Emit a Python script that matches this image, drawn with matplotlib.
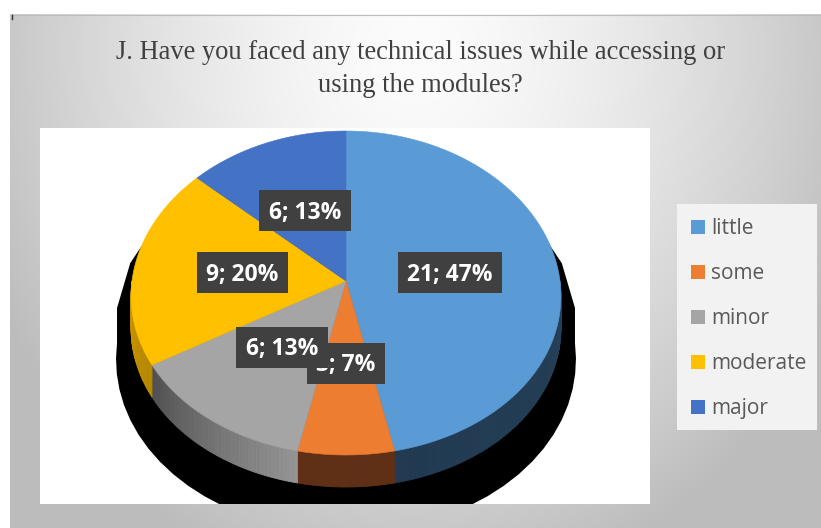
import numpy as np
import matplotlib
matplotlib.use("Agg")
import matplotlib.pyplot as plt
from matplotlib.patches import Polygon, Rectangle
from matplotlib.collections import PolyCollection
from matplotlib.colors import to_rgb

# ---- data -------------------------------------------------------------
categories = ["little", "some", "minor", "moderate", "major"]
counts = [21, 3, 6, 9, 6]
title_lines = ["J. Have you faced any technical issues while accessing or",
               "using the modules?"]

# ---- styling ----------------------------------------------------------
top_colors = ["#5b9bd5", "#ed7d31", "#a5a5a5", "#ffc000", "#4472c4"]
# side shading (colour at start angle, colour at end angle)
side_colors = [("#284660", "#223b52"), ("#5f3016", "#5f3016"),
               ("#959595", "#505050"), ("#b98a00", "#d9a500"),
               ("#2f4f8a", "#2f4f8a")]

W, H = 821, 528
fig = plt.figure(figsize=(W / 100, H / 100), dpi=100)
ax = fig.add_axes([0, 0, 1, 1])
ax.set_xlim(0, W)
ax.set_ylim(H, 0)
ax.axis("off")

# ---- background: soft radial grey gradient ------------------------------
yy, xx = np.mgrid[0:H, 0:W] + 0.5
t = np.sqrt(((xx - 415) / 440) ** 2 + ((yy - 50) / 520) ** 2)
val = np.clip(252 - 58 * t ** 1.5, 188, 252) / 255.0
bg = np.dstack([val, val, val])
bg[(xx < 10) | (yy < 14)] = 1.0
ax.imshow(bg, extent=(0, W, H, 0), zorder=0, interpolation="bilinear")
ax.plot([10, W], [14.5, 14.5], color="#bdbdbd", lw=0.8, zorder=1)
ax.plot([12, 12], [15, 19], color="#333333", lw=1, zorder=1)

# plot area
PX0, PX1, PY0, PY1 = 40, 650, 128, 504
ax.add_patch(Rectangle((PX0, PY0), PX1 - PX0, PY1 - PY0, fc="white",
                       ec="none", zorder=1))

# ---- title --------------------------------------------------------------
for i, line in enumerate(title_lines):
    ax.text(420.5, 59 + 33 * i, line, ha="center", va="baseline",
            family="Liberation Serif", fontsize=19.1, color="#404040",
            zorder=5)

# ---- 3-D pie geometry ---------------------------------------------------
CX, CY = 346.0, 281.0
A, B0, B1, K, DEPTH = 214.0, 162.0, 12.0, 0.094, 32.0


def proj(theta, r=1.0, z=0.0):
    th = np.radians(theta)
    u = r * np.sin(th)
    v = -r * np.cos(th)
    x = CX + A * u * (1 + K * v)
    y = CY + B0 * v + B1 * v ** 2 + z
    return x, y


total = sum(counts)
fracs = [c / total for c in counts]
starts = np.concatenate([[0], np.cumsum(fracs)[:-1]]) * 360
ends = np.cumsum(fracs) * 360

# drop shadow behind the pie
sil = []
for th in np.arange(270, 450.1, 15):
    sil.append(proj(th % 360))
for th in np.arange(90, 270.1, 5):
    sil.append(proj(th, z=DEPTH))
sil = np.array(sil)
sil[:, 0] = CX + (sil[:, 0] - CX) * 1.07
sil[:, 1] = CY + (sil[:, 1] - CY) * 1.09 + 27
shadow = Polygon(sil, closed=True, fc="black", ec="none", zorder=2)
ax.add_patch(shadow)
shadow.set_clip_path(Rectangle((PX0, PY0), PX1 - PX0, PY1 - PY0,
                               transform=ax.transData))

# outer side walls (front half only)
quads, qcols = [], []
for s, e, (c0, c1) in zip(starts, ends, side_colors):
    a0, a1 = max(s, 90), min(e, 270)
    if a1 <= a0:
        continue
    angs = np.linspace(a0, a1, max(int((a1 - a0) / 1.0), 2) + 1)
    c0, c1 = np.array(to_rgb(c0)), np.array(to_rgb(c1))
    for j in range(len(angs) - 1):
        p0, p1 = proj(angs[j]), proj(angs[j + 1])
        q0, q1 = proj(angs[j + 1], z=DEPTH), proj(angs[j], z=DEPTH)
        quads.append([p0, p1, q0, q1])
        f = ((angs[j] + angs[j + 1]) / 2 - s) / (e - s)
        qcols.append(c0 + (c1 - c0) * f)
ax.add_collection(PolyCollection(quads, facecolors=qcols, edgecolors=qcols,
                                 linewidths=0.6, zorder=3))

# top faces
for s, e, col in zip(starts, ends, top_colors):
    angs = np.linspace(s, e, max(int((e - s) / 0.5), 2) + 1)
    pts = [(CX, CY)] + [proj(a) for a in angs]
    ax.add_patch(Polygon(pts, closed=True, fc=col, ec=col, lw=0.4, zorder=4))

# data labels
labels = []
for i, (s, e, c) in enumerate(zip(starts, ends, counts)):
    pct = round(100 * c / total)
    lx, ly = proj((s + e) / 2, r=0.49)
    txt = ax.text(lx, ly + 8.2, f"{c}; {pct}%", ha="center", va="baseline",
                  family="Open Sans", fontweight="bold", fontsize=16.5,
                  color="white", zorder=10 + 2 * i + 1)
    labels.append((txt, lx, ly, i))
fig.canvas.draw()
for txt, lx, ly, i in labels:
    w = txt.get_window_extent().width
    ax.add_patch(Rectangle((lx - w / 2 - 9.5, ly - 20.5), w + 19, 41,
                           fc="#404040", ec="none", zorder=10 + 2 * i))

# ---- legend -------------------------------------------------------------
ax.add_patch(Rectangle((677, 204), 140, 226, fc="#f2f2f2", ec="none",
                       zorder=5))
for i, (cat, col) in enumerate(zip(categories, top_colors)):
    yb = 234 + 45 * i
    ax.add_patch(Rectangle((691, yb - 14), 14, 14, fc=col, ec="none",
                           zorder=6))
    ax.text(711, yb, cat, ha="left", va="baseline", family="Open Sans",
            fontsize=15, color="#595959", zorder=6)

fig.savefig("out.png", dpi=100)
